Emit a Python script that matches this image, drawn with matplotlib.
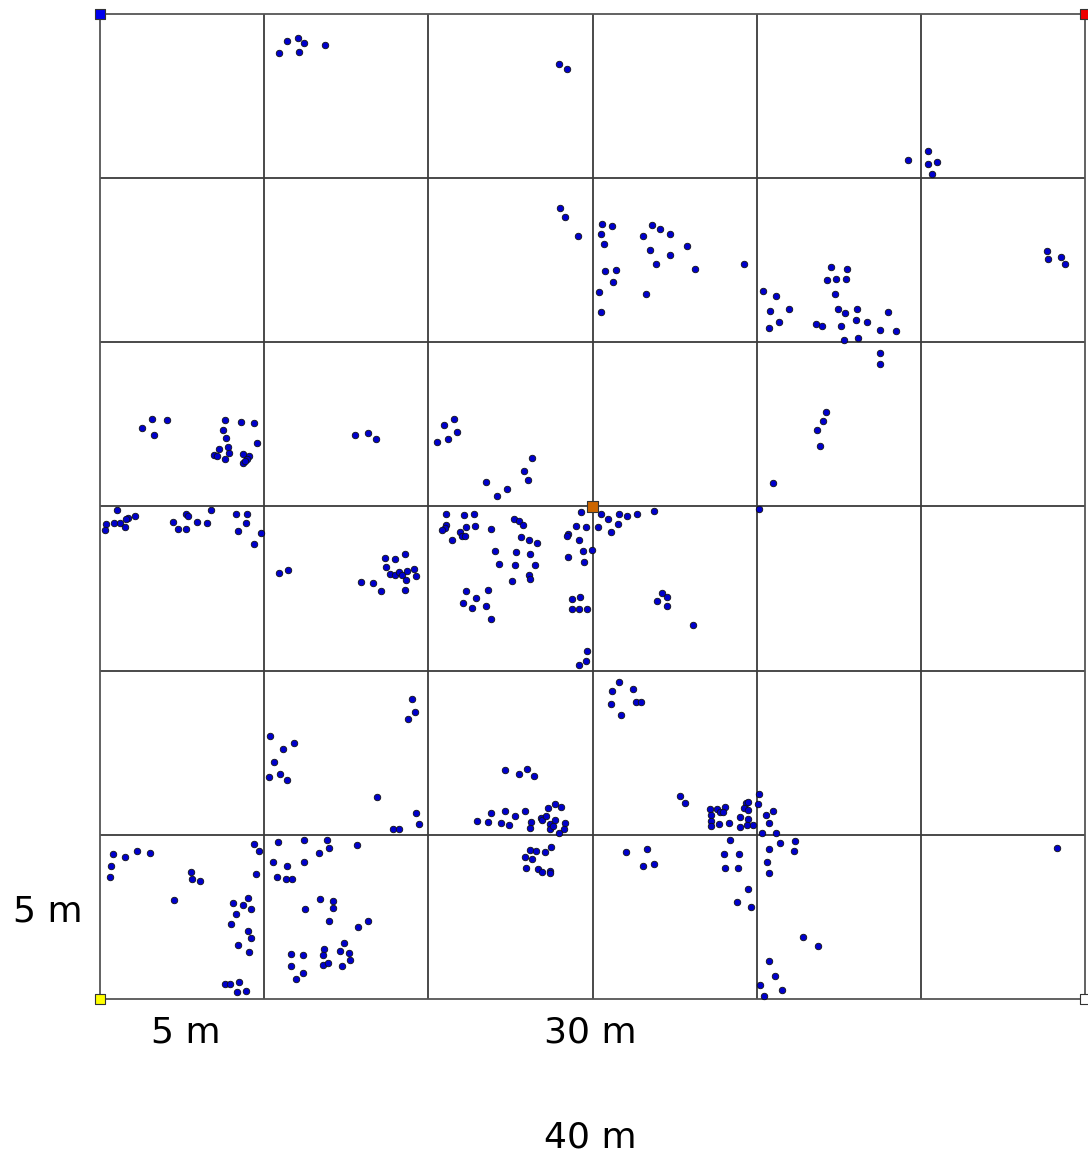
import matplotlib
matplotlib.use("Agg")
import matplotlib.pyplot as plt

# Tree positions (metres, plot 60 x 60 m, cells of 10 m)
tree_x = [
    11.41, 12.06, 12.44, 13.69, 10.88, 12.12,
    27.96, 28.44, 28.02, 28.30, 29.11, 30.56, 31.20, 30.53, 30.68, 33.60,
    34.09, 34.72, 33.06, 35.77, 33.52, 34.72, 33.85, 36.22, 39.24, 30.74,
    31.41, 31.27, 30.38, 33.26, 30.50,
    49.23, 50.42, 50.43, 51.00, 50.70, 57.70, 57.74, 58.52, 58.76,
    44.54, 45.50, 44.28, 44.81, 45.42, 40.40, 41.18, 44.79, 40.81, 41.99,
    44.95, 45.36, 46.13, 48.02, 41.36, 40.73, 43.59, 43.98, 45.13, 46.07,
    46.74, 47.51, 48.50, 45.30, 46.19,
    47.49, 47.49, 44.24, 44.02, 43.65, 43.84, 41.01, 40.16,
    3.19, 4.06, 2.54, 3.29, 7.60, 8.59, 9.40, 7.47, 7.66, 9.54,
    7.23, 7.78, 7.88, 6.94, 7.13, 7.63, 8.73, 9.08, 8.94, 8.69, 8.81,
    15.55, 16.31, 16.81,
    1.05, 2.11, 1.69, 1.57, 0.85, 1.24, 1.50, 0.37, 0.30,
    5.24, 5.36, 4.43, 4.77, 5.22, 5.91, 6.52, 6.76,
    8.28, 8.94, 8.91, 8.39, 9.81, 9.38, 10.88, 11.45,
    17.34, 17.95, 18.56, 17.40, 17.68, 17.99, 18.23, 18.38, 18.72, 19.11,
    19.27, 18.66, 18.56, 15.88, 16.65, 17.12,
    21.56, 20.93, 21.76, 21.18, 20.54, 26.31, 25.83, 26.07, 23.51, 24.77, 24.20,
    21.07, 22.15, 22.78, 21.07, 21.01, 20.85, 22.29, 22.84, 21.95, 22.05,
    22.25, 21.42, 23.83, 25.24, 25.52, 25.78, 25.62, 26.15, 26.64, 24.04,
    25.34, 26.21, 24.30, 25.28, 26.50, 26.15, 26.21, 25.08,
    22.31, 23.65, 22.92, 22.13, 22.64, 23.51, 23.83,
    29.30, 28.97, 29.62, 28.52, 28.43, 29.16, 29.42, 29.95, 28.52, 29.50,
    30.50, 30.92, 31.63, 32.08, 32.73, 33.73, 30.33, 31.55, 31.13,
    28.73, 29.24, 28.73, 29.18, 29.68, 29.68, 29.58, 29.16,
    34.25, 34.55, 33.93, 34.55, 36.12,
    18.99, 19.19, 18.74, 10.34, 11.82, 11.13, 10.62, 10.29, 10.98, 11.39,
    16.85, 19.27, 19.43, 17.85, 18.23,
    0.77, 1.50, 2.27, 3.03, 0.67, 0.61, 5.56, 5.59, 6.11, 4.49,
    9.36, 9.70, 9.48, 8.12, 9.03, 8.73, 9.20, 8.28, 7.96, 9.00, 9.18,
    8.39, 9.06, 7.63, 7.92, 8.45, 8.34, 8.87,
    10.82, 12.43, 13.84, 13.97, 13.36, 15.65, 10.54, 11.39, 12.41, 10.76,
    11.31, 11.68, 13.38, 14.21, 12.47, 14.21, 13.97, 15.73, 16.31, 14.86,
    13.63, 14.64, 15.17, 11.63, 12.35, 13.58, 15.21, 11.63, 13.60, 13.87,
    14.72, 12.35, 11.92,
    31.59, 31.20, 32.48, 32.63, 32.93, 31.11, 31.73,
    24.69, 25.50, 26.01, 26.43,
    22.98, 23.63, 23.82, 24.65, 24.44, 24.89, 25.28, 25.89, 26.23, 26.21,
    26.84, 26.94, 27.17, 27.31, 27.70, 28.06, 27.39, 27.73, 27.41, 27.59,
    28.34, 28.24, 27.94,
    27.49, 26.21, 26.56, 27.10, 25.87, 26.31, 25.93, 26.66, 26.94, 27.39, 27.41,
    35.31, 35.61, 37.16, 37.22, 37.58, 37.76, 38.05, 37.93, 37.23, 37.22,
    37.70, 38.31, 38.98, 38.96, 39.47, 39.41, 39.79, 39.33, 39.45, 39.24,
    39.49, 40.06, 40.17,
    38.39, 37.99, 38.94, 38.05, 38.88, 39.45, 38.82, 39.65,
    32.06, 33.34, 33.07, 33.73,
    41.01, 40.57, 40.73, 40.30, 41.16, 42.35, 41.42, 40.73, 42.27, 40.63, 40.73,
    58.27, 42.82, 43.73, 40.75, 41.10, 40.22, 41.56, 40.43,
]
tree_y = [
    58.37, 58.53, 58.21, 58.11, 57.62, 57.70,
    56.97, 56.63, 48.16, 47.65, 46.47, 47.22, 47.10, 46.60, 45.99, 47.16,
    46.88, 46.60, 46.47, 45.85, 45.60, 45.34, 44.79, 44.45, 44.75, 44.34,
    44.42, 43.65, 43.08, 42.94, 41.83,
    51.08, 51.63, 50.84, 51.00, 50.25, 45.58, 45.05, 45.21, 44.75,
    44.57, 44.46, 43.79, 43.87, 43.84, 43.14, 42.84, 42.94, 41.92, 42.03,
    42.03, 41.77, 42.01, 41.83, 41.24, 40.87, 41.13, 40.99, 40.99, 41.38,
    41.24, 40.73, 40.71, 40.16, 40.26,
    39.35, 38.68, 35.74, 35.21, 34.66, 33.68, 31.43, 29.83,
    35.31, 35.27, 34.78, 34.37, 35.27, 35.13, 35.07, 34.66, 34.19, 33.87,
    33.48, 33.60, 33.24, 33.14, 33.09, 32.89, 33.18, 33.06, 32.91, 32.65, 32.79,
    34.37, 34.49, 34.09,
    29.77, 29.40, 29.32, 29.24, 29.01, 28.97, 28.77, 28.91, 28.55,
    29.52, 29.42, 29.04, 28.65, 28.63, 29.07, 28.97, 29.77,
    29.56, 29.52, 28.99, 28.49, 28.37, 27.73, 25.95, 26.11,
    26.84, 26.82, 27.10, 26.31, 25.87, 25.84, 25.99, 25.84, 26.07, 26.21,
    25.78, 25.54, 24.91, 25.40, 25.34, 24.83,
    35.31, 34.98, 34.55, 34.09, 33.93, 32.97, 32.18, 31.59, 31.49, 31.08, 30.62,
    29.56, 29.50, 29.56, 28.85, 28.71, 28.55, 28.73, 28.79, 28.43, 28.22,
    28.22, 27.94, 28.63, 29.24, 29.13, 28.85, 28.16, 27.94, 27.76, 27.31,
    27.23, 27.12, 26.51, 26.43, 26.43, 25.84, 25.60, 25.48,
    24.87, 24.91, 24.42, 24.12, 23.82, 23.96, 23.16,
    29.66, 28.83, 28.75, 28.30, 28.22, 27.96, 27.29, 27.35, 26.94, 26.60,
    29.56, 29.24, 29.56, 29.42, 29.56, 29.71, 28.73, 28.93, 28.46,
    24.35, 24.50, 23.77, 23.74, 23.74, 21.18, 20.57, 20.36,
    24.71, 24.49, 24.24, 23.96, 22.80,
    18.27, 17.46, 17.07, 16.04, 15.61, 15.25, 14.42, 13.52, 13.72, 13.36,
    12.30, 11.31, 10.66, 10.34, 10.34,
    8.83, 8.63, 9.00, 8.91, 8.08, 7.45, 7.75, 7.29, 7.19, 6.03,
    9.42, 9.00, 7.61, 5.87, 6.15, 5.71, 5.46, 5.18, 4.55, 4.14, 3.70,
    3.27, 2.88, 0.91, 0.91, 1.05, 0.44, 0.47,
    9.56, 9.67, 9.68, 9.20, 8.91, 9.40, 8.36, 8.12, 8.33, 7.43,
    7.29, 7.33, 6.09, 5.99, 5.48, 5.54, 4.77, 4.37, 4.73, 3.39,
    3.03, 2.92, 2.80, 2.76, 2.68, 2.68, 2.36, 2.01, 2.05, 2.17,
    2.03, 1.60, 1.20,
    19.33, 18.74, 18.86, 18.11, 18.11, 17.99, 17.32,
    13.95, 13.69, 13.99, 13.58,
    10.86, 10.80, 11.31, 11.43, 10.72, 10.60, 11.15, 11.47, 10.80, 10.40,
    11.04, 10.90, 11.13, 11.62, 11.88, 11.71, 10.66, 10.90, 10.37, 10.54,
    10.72, 10.34, 10.13,
    9.28, 9.08, 9.00, 8.97, 8.65, 8.51, 7.98, 7.92, 7.74, 7.80, 7.66,
    12.38, 11.96, 11.55, 11.21, 11.55, 11.41, 11.71, 11.41, 10.82, 10.56,
    10.66, 10.70, 11.10, 10.49, 10.96, 10.62, 10.60, 11.96, 12.02, 11.63,
    11.53, 11.86, 12.49,
    9.70, 8.85, 8.83, 7.98, 7.98, 6.70, 5.91, 5.62,
    8.97, 9.14, 8.12, 8.22,
    11.47, 11.23, 10.74, 10.09, 10.09, 9.64, 9.48, 9.14, 9.00, 8.36, 7.69,
    9.20, 3.76, 3.23, 2.31, 1.40, 0.83, 0.53, 0.18,
]

# Reference markers (corners and plot centre)
ref_x = [0, 60, 0, 60, 30]
ref_y = [60, 60, 0, 0, 30]
ref_colors = ["#0000ee", "#ee0000", "#ffff00", "#ffffff", "#cc6600"]

# Grid (10 m cells)
grid_ticks = [0, 10, 20, 30, 40, 50, 60]

# Distance labels
label_texts = ["5 m", "5 m", "30 m", "40 m"]
label_x = [-3.17, 5.2, 29.85, 29.85]
label_y = [5.3, -2.07, -2.07, -8.41]

W, H = 1088, 1159
fig = plt.figure(figsize=(W / 100, H / 100), dpi=100)
ax = fig.add_axes([100 / W, (H - 999) / H, 985 / W, 985 / H])
ax.set_xlim(0, 60)
ax.set_ylim(0, 60)

line_col = "#3c3c3c"
for t in grid_ticks[1:-1]:
    ax.axvline(t, color=line_col, lw=1.3, zorder=1)
    ax.axhline(t, color=line_col, lw=1.3, zorder=1)
for s in ax.spines.values():
    s.set_color("#555555")
    s.set_linewidth(1.3)
ax.set_xticks([])
ax.set_yticks([])

ax.scatter(tree_x, tree_y, s=22, c="#0000cc", edgecolors="#111111",
           linewidths=0.6, zorder=3, clip_on=False)

ax.scatter(ref_x, ref_y, s=60, marker="s", c=ref_colors,
           edgecolors="#333333", linewidths=0.8, zorder=4, clip_on=False)

for t, x, y in zip(label_texts, label_x, label_y):
    ax.text(x, y, t, fontsize=26, ha="center", va="center",
            color="black", clip_on=False)

fig.savefig("out.png", dpi=100, facecolor="white")
